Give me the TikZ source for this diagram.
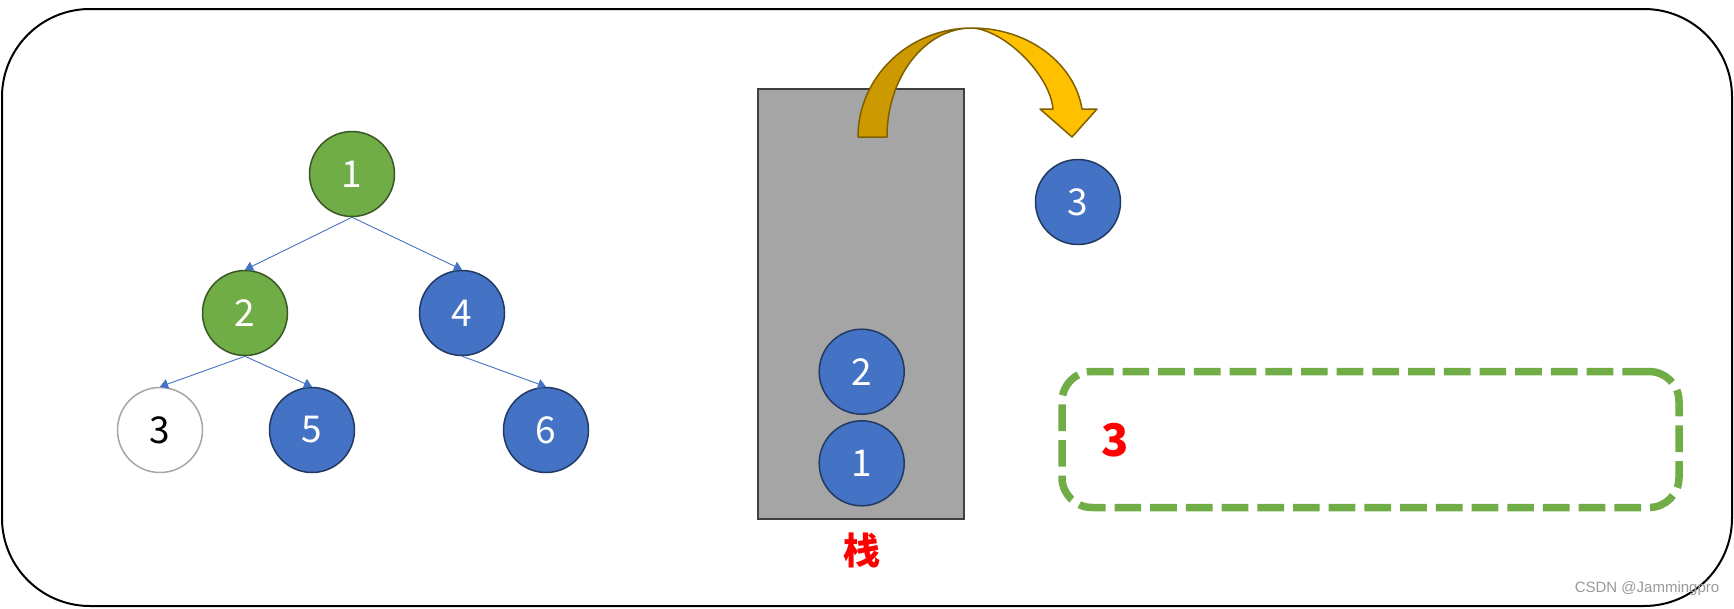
\documentclass[tikz,border=0pt]{standalone}
\usepackage{fontspec}
\setmainfont{Noto Sans CJK SC}
\newfontfamily\marksans{Liberation Sans}
\usetikzlibrary{arrows.meta}
\definecolor{treegreen}{RGB}{112, 173, 71}
\definecolor{treeblue}{RGB}{68, 114, 196}
\definecolor{stackgray}{RGB}{165, 165, 165}
\definecolor{stackline}{RGB}{64, 64, 64}
\definecolor{arrowdark}{RGB}{204, 153, 0}
\definecolor{arrowlight}{RGB}{255, 192, 0}
\definecolor{arrowline}{RGB}{127, 96, 0}

\begin{document}
\begin{tikzpicture}[
    x=1pt, y=-1pt,
    ball/.style={circle, fill=#1, draw=#1!50!black, text=white, line width=1.5pt,
        minimum size=85pt, inner sep=0pt, font=\fontsize{37}{40}\selectfont},
    ball/.default=treeblue,
    edge/.style={treeblue, line width=0.9pt, -{Triangle[width=10pt, length=8pt]}},
    poparrow/.style={draw=arrowline, line width=1.5pt, line join=round}
]
    \useasboundingbox (0,0) rectangle (1734,608);

    % --- Frame ---
    \draw[line width=2pt, rounded corners=88pt] (2,9) rectangle (1732,606);

    % --- Tree ---
    \node[ball=treegreen] (n1) at (352,174) {1};
    \node[ball=treegreen] (n2) at (245,313) {2};
    \node[ball]           (n4) at (462,313) {4};
    \node[ball=white, draw=gray!70, text=black] (n3) at (160,430) {3};
    \node[ball]           (n5) at (312,430) {5};
    \node[ball]           (n6) at (546,430) {6};

    \draw[edge] (n1.south) -- (n2.north);
    \draw[edge] (n1.south) -- (n4.north);
    \draw[edge] (n2.south) -- (n3.north);
    \draw[edge] (n2.south) -- (n5.north);
    \draw[edge] (n4.south) -- (n6.north);

    % --- Stack ---
    \node[draw=stackline, fill=stackgray, line width=2pt, inner sep=0pt,
        minimum width=205.7pt, minimum height=430pt] (stack) at (861.2,304) {};
    \node[ball] (s2) at (861.7,371.7) {2};
    \node[ball] (s1) at (861.7,463.3) {1};
    \node[text=red, font=\bfseries\fontsize{37}{40}\selectfont] (stacklabel) at (861.7,550) {栈};

    % --- Pop arrow ---
    \filldraw[poparrow, fill=arrowdark] (858,137) .. controls (858,76.8) and (909,28) .. (972,28)
        .. controls (925,28) and (887,76.8) .. (887,137) -- cycle;
    \filldraw[poparrow, fill=arrowlight] (972,28) .. controls (1030,28) and (1075,65) .. (1082,109)
        -- (1097,109) -- (1072,137) -- (1040,109) -- (1053,109)
        .. controls (1050,75) and (1005,30) .. (972,28) -- cycle;

    \node[ball] (pop) at (1078,202) {3};

    % --- Output ---
    \node[draw=treegreen, line width=7.5pt, dash pattern=on 26.7pt off 9pt,
        rounded corners=30pt, minimum width=617pt, minimum height=136pt] (result) at (1370.5,439.5) {};
    \node[text=red, font=\bfseries\fontsize{45}{48}\selectfont] (out3) at (1115,440) {3};

    % --- Watermark ---
    \node[text=black!40, font=\marksans\fontsize{15}{17}\selectfont] (mark) at (1647,589) {CSDN @Jammingpro};

\end{tikzpicture}
\end{document}
